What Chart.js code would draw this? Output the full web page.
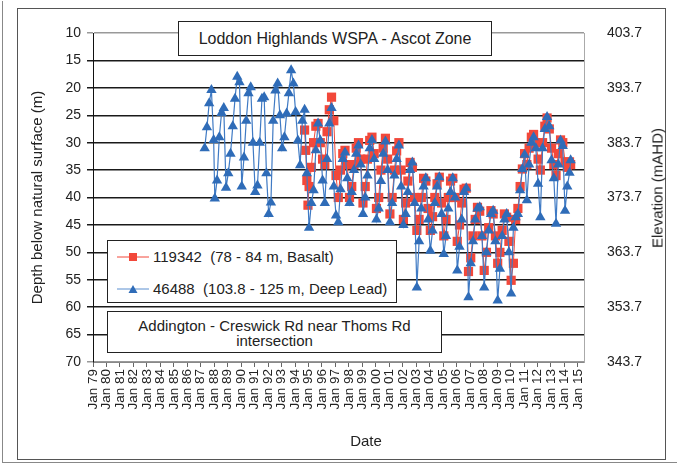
<!DOCTYPE html>
<html lang="en">
<head>
<meta charset="UTF-8">
<title>Loddon Highlands WSPA - Ascot Zone</title>
<script src="https://cdn.jsdelivr.net/npm/chart.js"></script>
<style>
    body {
        margin: 0;
        background: #fff;
        font-family: 'Liberation Sans', Arial, sans-serif;
        color: #222;
    }
    .wrap { position: relative; width: 678px; height: 466px; overflow: hidden; }
    .wrap canvas { position: absolute; left: 0; top: 0; }
    .page { position: absolute; left: 2px; top: 1px; width: 674px; height: 461px; border: 1px solid #888; border-top: none; border-right: none; }
    .frame { position: absolute; left: 17px; top: 8px; width: 647px; height: 450px; border: 1px solid #555; }
    .box {
        position: absolute;
        background: #fff;
        border: 1px solid #222;
        box-sizing: border-box;
    }
    #title { left: 178px; top: 21px; width: 314px; height: 35px; font-size: 16px; text-align: center; line-height: 33px; }
    #legend { left: 107px; top: 240px; width: 290px; height: 63px; font-size: 15px; }
    #legend .row { position: absolute; left: 9px; white-space: pre; height: 18px; line-height: 18px; }
    #legend svg { vertical-align: middle; margin-right: 4px; position: relative; top: -1px; }
    #site { left: 107px; top: 311px; width: 335px; height: 42px; font-size: 15px; text-align: center; line-height: 15px; padding-top: 6px; }
    .axis-title { position: absolute; font-size: 15px; white-space: nowrap; }
    #elevTitle { left: 657px; top: 188px; transform: translate(-50%, -50%) rotate(-90deg); }
    #dateTitle { left: 366px; top: 440px; transform: translate(-50%, -50%); }
</style>
</head>
<body>
<div class="wrap">
    <div class="page"></div>
    <div class="frame"></div>
    <canvas id="chart" width="678" height="466"></canvas>
    <div class="box" id="title">Loddon Highlands WSPA - Ascot Zone</div>
    <div class="box" id="legend">
        <div class="row" style="top:7px"><svg width="32" height="10"><line x1="0" y1="5" x2="32" y2="5" stroke="#f2483a" stroke-width="1"/><rect x="12" y="1" width="8" height="8" fill="#f2483a"/></svg>119342  (78 - 84 m, Basalt)</div>
        <div class="row" style="top:39px"><svg width="32" height="10"><line x1="0" y1="5" x2="32" y2="5" stroke="#5b8fd0" stroke-width="1"/><polygon points="16,1 20.5,9 11.5,9" fill="#2f6cb8"/></svg>46488  (103.8 - 125 m, Deep Lead)</div>
    </div>
    <div class="box" id="site">Addington  - Creswick Rd near Thoms Rd<br>intersection</div>
    <div class="axis-title" id="elevTitle">Elevation (mAHD)</div>
    <div class="axis-title" id="dateTitle">Date</div>
</div>
<script>
    // Bore 46488 (103.8 - 125 m, Deep Lead): depth below natural surface (m)
    const blueDates = [
        '1987-04', '1987-06', '1987-08', '1987-10', '1987-12',
        '1988-01', '1988-03', '1988-05', '1988-07', '1988-09', '1988-11',
        '1989-01', '1989-03', '1989-05', '1989-07', '1989-09', '1989-11',
        '1990-01', '1990-03', '1990-05', '1990-07', '1990-09', '1990-11',
        '1991-01', '1991-03', '1991-05', '1991-07', '1991-09', '1991-11',
        '1992-01', '1992-03', '1992-05', '1992-07', '1992-09', '1992-11',
        '1993-01', '1993-03', '1993-05', '1993-07', '1993-09', '1993-11',
        '1994-01', '1994-03', '1994-05', '1994-07', '1994-09', '1994-11',
        '1995-01', '1995-03', '1995-05', '1995-07', '1995-09', '1995-11',
        '1996-01', '1996-03', '1996-05', '1996-07', '1996-09', '1996-11',
        '1997-01', '1997-03', '1997-05', '1997-07', '1997-09', '1997-11',
        '1998-01', '1998-03', '1998-05', '1998-07', '1998-09', '1998-11',
        '1999-01', '1999-03', '1999-05', '1999-07', '1999-09', '1999-11',
        '2000-01', '2000-03', '2000-05', '2000-07', '2000-09', '2000-11',
        '2001-01', '2001-03', '2001-05', '2001-07', '2001-09', '2001-11',
        '2002-01', '2002-03', '2002-05', '2002-07', '2002-09', '2002-11',
        '2003-01', '2003-03', '2003-05', '2003-07', '2003-09', '2003-11',
        '2004-01', '2004-03', '2004-05', '2004-07', '2004-09', '2004-11',
        '2005-01', '2005-03', '2005-05', '2005-07', '2005-09', '2005-11',
        '2006-01', '2006-03', '2006-05', '2006-07', '2006-09', '2006-11',
        '2007-01', '2007-03', '2007-05', '2007-07', '2007-09', '2007-11',
        '2008-01', '2008-03', '2008-05', '2008-07', '2008-09', '2008-11',
        '2009-01', '2009-03', '2009-05', '2009-07', '2009-09', '2009-11',
        '2010-01', '2010-03', '2010-05', '2010-07', '2010-09', '2010-11',
        '2011-01', '2011-03', '2011-05', '2011-07', '2011-09', '2011-11',
        '2012-01', '2012-03', '2012-05', '2012-07', '2012-09', '2012-11',
        '2013-01', '2013-03', '2013-05', '2013-07', '2013-09', '2013-11',
        '2014-01', '2014-03', '2014-05', '2014-06'
    ];
    const blueDepth = [
        31.0, 27.2, 22.8, 20.4, 29.5,
        40.2, 36.9, 29.0, 24.6, 23.7, 38.2,
        35.6, 32.0, 27.0, 22.0, 18.0, 19.0,
        38.0, 32.7, 26.0, 21.0, 19.9, 30.0,
        39.0, 37.8, 30.0, 22.0, 21.7, 35.6,
        43.0, 40.9, 26.0, 20.5, 19.2, 25.0,
        31.0, 29.0, 24.7, 21.0, 16.8, 19.2,
        24.4, 29.6, 34.1, 26.0, 24.0, 35.6,
        45.5, 41.0, 38.7, 31.4, 26.5, 29.6,
        36.9, 41.0, 33.0, 26.5, 23.7, 38.0,
        43.3, 44.5, 38.5, 33.0, 31.8, 36.5,
        41.0, 39.0, 35.0, 32.0, 30.5, 34.0,
        43.0, 40.0, 36.0, 31.0, 29.5, 33.0,
        44.0, 42.0, 37.0, 32.0, 29.8, 35.0,
        44.5, 41.0, 36.0, 33.0, 30.5, 38.0,
        45.0, 43.0, 39.0, 35.0, 33.6, 41.0,
        56.4, 48.0, 42.0, 38.0, 36.5, 44.0,
        49.7, 46.0, 41.0, 38.0, 36.3, 43.0,
        50.3, 47.0, 42.0, 39.0, 36.5, 40.0,
        53.3, 49.0, 44.0, 39.0, 38.3, 58.2,
        52.0, 48.0, 44.0, 42.0, 41.8, 47.0,
        56.4, 50.0, 46.0, 43.0, 42.4, 48.0,
        58.8, 53.0, 47.0, 44.0, 43.0, 50.0,
        57.5, 45.5, 43.6, 43.0, 38.7, 34.8,
        32.2, 40.5, 34.0, 30.0, 29.0, 31.0,
        37.5, 43.6, 31.0, 27.5, 25.3, 27.0,
        33.2, 36.5, 44.8, 34.0, 29.6, 30.6,
        42.4, 38.0, 35.5, 33.2
    ];

    // Bore 119342 (78 - 84 m, Basalt): depth below natural surface (m)
    const redDates = [
        '1994-09', '1994-10', '1994-11', '1994-12',
        '1995-01', '1995-03', '1995-05', '1995-07', '1995-09', '1995-11',
        '1996-01', '1996-03', '1996-05', '1996-07', '1996-09', '1996-11',
        '1997-01', '1997-03', '1997-05', '1997-07', '1997-09', '1997-11',
        '1998-01', '1998-03', '1998-05', '1998-07', '1998-09', '1998-11',
        '1999-01', '1999-03', '1999-05', '1999-07', '1999-09', '1999-11',
        '2000-01', '2000-03', '2000-05', '2000-07', '2000-09', '2000-11',
        '2001-01', '2001-03', '2001-05', '2001-07', '2001-09', '2001-11',
        '2002-01', '2002-03', '2002-05', '2002-07', '2002-09', '2002-11',
        '2003-01', '2003-03', '2003-05', '2003-07', '2003-09', '2003-11',
        '2004-01', '2004-03', '2004-05', '2004-07', '2004-09', '2004-11',
        '2005-01', '2005-03', '2005-05', '2005-07', '2005-09', '2005-11',
        '2006-01', '2006-03', '2006-05', '2006-07', '2006-09', '2006-11',
        '2007-01', '2007-03', '2007-05', '2007-07', '2007-09', '2007-11',
        '2008-01', '2008-03', '2008-05', '2008-07', '2008-09', '2008-11',
        '2009-01', '2009-03', '2009-05', '2009-07', '2009-09', '2009-11',
        '2010-01', '2010-03', '2010-05', '2010-07', '2010-09', '2010-11',
        '2011-01', '2011-03', '2011-05', '2011-07', '2011-09', '2011-11',
        '2012-01', '2012-03', '2012-05', '2012-07', '2012-09', '2012-11',
        '2013-01', '2013-03', '2013-05', '2013-07', '2013-09', '2013-11',
        '2014-01', '2014-03', '2014-05', '2014-06'
    ];
    const redDepth = [
        27.7, 31.4, 36.9, 41.4,
        38.0, 34.5, 30.0, 27.0, 26.5, 30.0,
        33.0, 34.0, 28.0, 24.0, 21.7, 26.0,
        36.0, 40.0, 35.0, 32.0, 31.4, 34.0,
        40.0, 38.0, 34.0, 31.0, 30.0, 33.0,
        41.0, 38.0, 33.0, 29.6, 29.0, 32.0,
        42.0, 40.0, 35.0, 31.0, 29.2, 33.0,
        43.0, 40.0, 35.0, 31.5, 30.0, 35.0,
        44.0, 41.0, 37.0, 33.6, 34.5, 40.0,
        46.0, 44.0, 40.0, 36.5, 37.0, 42.0,
        46.0, 43.5, 40.0, 37.5, 36.3, 41.0,
        47.0, 44.0, 40.0, 37.0, 36.5, 40.0,
        48.0, 45.0, 41.0, 38.5, 38.3, 53.5,
        51.0, 47.0, 44.0, 41.8, 42.5, 47.0,
        53.3, 50.0, 45.5, 42.4, 43.0, 47.0,
        52.0, 50.0, 46.0, 43.0, 43.6, 48.0,
        55.1, 52.0, 44.0, 42.0, 38.0, 34.8,
        32.0, 34.0, 31.0, 29.0, 28.5, 30.0,
        33.0, 35.0, 30.0, 27.0, 25.5, 27.5,
        31.0, 34.0, 36.0, 32.0, 29.5, 30.0,
        33.5, 34.5, 33.5, 34.0
    ];

    // Axis ticks
    const yearTicks = [
        1979, 1980, 1981, 1982, 1983, 1984, 1985, 1986, 1987, 1988,
        1989, 1990, 1991, 1992, 1993, 1994, 1995, 1996, 1997, 1998,
        1999, 2000, 2001, 2002, 2003, 2004, 2005, 2006, 2007, 2008,
        2009, 2010, 2011, 2012, 2013, 2014, 2015
    ];
    const elevTicks = [343.7, 353.7, 363.7, 373.7, 383.7, 393.7, 403.7];

    // 'YYYY-MM' -> decimal year (middle of the month)
    function toYear(s) {
        const [y, m] = s.split('-').map(Number);
        return y + (m - 0.5) / 12;
    }
    const toPoints = (dates, vals) => dates.map((d, i) => ({ x: toYear(d), y: vals[i] }));

    Chart.defaults.font.family = "'Liberation Sans', Arial, sans-serif";
    Chart.defaults.color = '#222';

    new Chart(document.getElementById('chart'), {
        type: 'line',
        data: {
            datasets: [
                {
                    label: '46488  (103.8 - 125 m, Deep Lead)',
                    data: toPoints(blueDates, blueDepth),
                    borderColor: '#3f7ac4',
                    borderWidth: 1.2,
                    pointStyle: 'triangle',
                    pointRadius: 6,
                    pointBackgroundColor: '#2f6cb8',
                    pointBorderColor: '#2f6cb8',
                    pointBorderWidth: 0,
                    order: 0
                },
                {
                    label: '119342  (78 - 84 m, Basalt)',
                    data: toPoints(redDates, redDepth),
                    borderColor: '#f2483a',
                    borderWidth: 1,
                    pointStyle: 'rect',
                    pointRadius: 6.5,
                    pointBackgroundColor: '#f2483a',
                    pointBorderColor: '#f2483a',
                    pointBorderWidth: 0,
                    order: 1
                }
            ]
        },
        options: {
            responsive: false,
            animation: false,
            layout: { padding: { left: 20, right: 4, top: 33, bottom: 8 } },
            plugins: {
                legend: { display: false },
                tooltip: { enabled: false }
            },
            scales: {
                x: {
                    type: 'linear',
                    min: 1979,
                    max: 2015.45,
                    afterBuildTicks: s => { s.ticks = yearTicks.map(v => ({ value: v })); },
                    afterFit: s => { s.height = 96; },
                    ticks: {
                        autoSkip: false,
                        minRotation: 90,
                        maxRotation: 90,
                        padding: 2,
                        font: { size: 13.5 },
                        callback: v => 'Jan ' + String(v).slice(2)
                    },
                    grid: { drawOnChartArea: false, tickLength: 5, color: '#666' },
                    border: { color: '#888' }
                },
                y: {
                    reverse: true,
                    min: 10,
                    max: 70,
                    afterFit: s => { s.width = 73; },
                    ticks: { stepSize: 5, padding: 6, font: { size: 14 } },
                    grid: {
                        tickLength: 6,
                        lineWidth: 1.5,
                        color: c => (c.tick && (c.tick.value === 10 || c.tick.value === 70)) ? '#999' : '#1a1a1a'
                    },
                    border: { color: '#111', width: 1 },
                    title: {
                        display: true,
                        text: 'Depth below natural surface (m)',
                        font: { size: 15 },
                        padding: { top: 9, bottom: 0 }
                    }
                },
                y2: {
                    position: 'right',
                    min: 343.7,
                    max: 403.7,
                    afterBuildTicks: s => { s.ticks = elevTicks.map(v => ({ value: v })); },
                    afterFit: s => { s.width = 90; },
                    ticks: { padding: 15, font: { size: 14 }, callback: v => v.toFixed(1) },
                    grid: { display: false },
                    border: { display: true, color: '#aaa', dash: [2, 2] }
                }
            }
        }
    });
</script>
</body>
</html>
